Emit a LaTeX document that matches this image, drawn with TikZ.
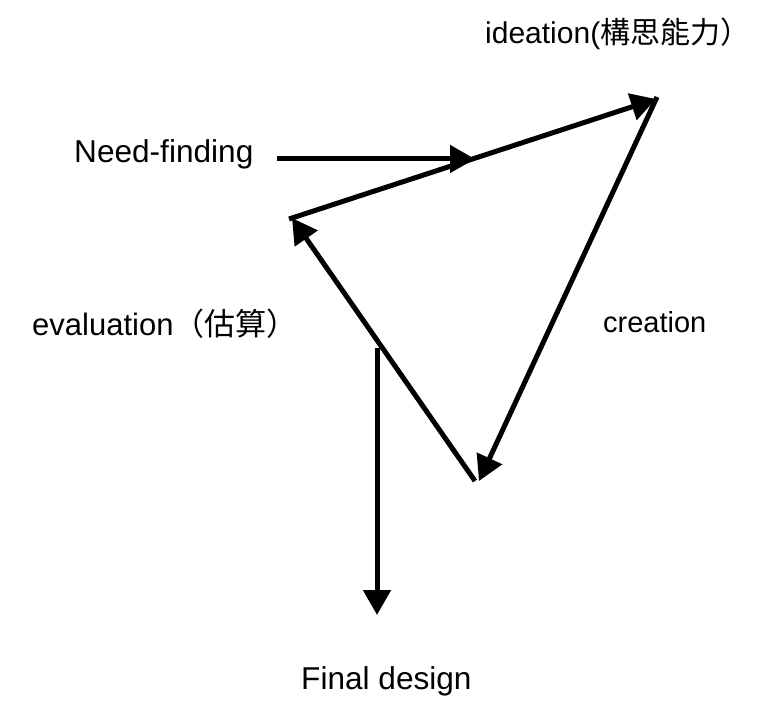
\documentclass[tikz,border=0pt]{standalone}
\usepackage{fontspec}
\setmainfont{Liberation Sans}
\newfontfamily\cjk{Noto Sans CJK TC}
\usetikzlibrary{arrows.meta}
\begin{document}
\begin{tikzpicture}[x=1pt,y=-1pt,
  lbl/.style={anchor=base west,inner sep=0pt,font=\fontsize{30}{36}\selectfont},
  arr/.style={line width=5pt,-{Triangle[length=25pt,width=27pt]}}]
\useasboundingbox (0,0) rectangle (766,722);
% vertices
\coordinate (A) at (289,219);
\coordinate (B) at (656,99);
\coordinate (B2) at (657,97);
\coordinate (C) at (479,481);
\coordinate (C2) at (475,481);
\coordinate (A2) at (292,218);
\coordinate (N1) at (277,159);
\coordinate (N2) at (475,159);
\coordinate (F1) at (377,348);
\coordinate (F2) at (377,615);
% labels
\node[lbl] (ide) at (485,44) {ideation({\cjk 構思能力）}};
\node[lbl,font=\fontsize{31.6}{36}\selectfont] (need) at (74,163) {Need-finding};
\node[lbl,font=\fontsize{31}{36}\selectfont] (eva) at (32,335) {evaluation{\cjk （估算）}};
\node[lbl,font=\fontsize{29}{36}\selectfont] (cre) at (603,332) {creation};
\node[lbl,font=\fontsize{31.6}{36}\selectfont] (fin) at (301,689) {Final design};
% connectors
\draw[arr] (A) -- (B);
\draw[arr] (B2) -- (C);
\draw[arr] (C2) -- (A2);
\draw[arr] (N1) -- (N2);
\draw[arr] (F1) -- (F2);
\end{tikzpicture}
\end{document}
